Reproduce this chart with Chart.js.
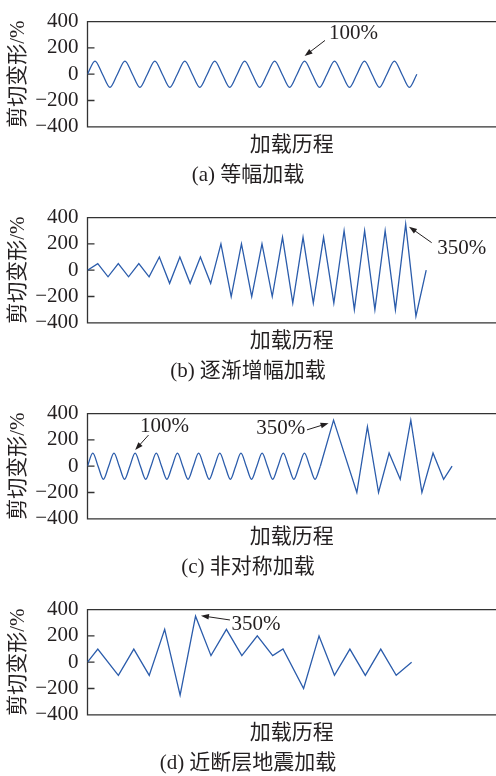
<!DOCTYPE html>
<html>
<head>
<meta charset="utf-8">
<script src="https://cdn.jsdelivr.net/npm/chart.js@4/dist/chart.umd.min.js"></script>
<style>
  html, body { margin: 0; padding: 0; background: #fff; overflow: hidden; }
  .panel { position: absolute; left: 0; width: 496px; height: 196px; }
</style>
</head>
<body>
<div class="panel" style="top:0px"><canvas id="chartA" width="496" height="196"></canvas></div>
<div class="panel" style="top:196px"><canvas id="chartB" width="496" height="196"></canvas></div>
<div class="panel" style="top:392px"><canvas id="chartC" width="496" height="196"></canvas></div>
<div class="panel" style="top:588px"><canvas id="chartD" width="496" height="196"></canvas></div>
<script>
// shear strain (%) at zero crossings and peaks, quarter-cycle steps
const shearA = [
    0, 100, 0, -100,  0, 100, 0, -100,  0, 100, 0, -100,  0, 100, 0, -100,
    0, 100, 0, -100,  0, 100, 0, -100,  0, 100, 0, -100,  0, 100, 0, -100,
    0, 100, 0, -100,  0, 100, 0, -100,  0, 100, 0, -100,
    0
];

// stepwise increasing amplitude, one vertex per step
const shearB = [
    0, 50, -50, 50, -50, 50, -50,
    100, -100, 100, -100, 100, -100,
    200, -200, 200, -200, 200, -200,
    250, -250, 250, -250, 250, -250,
    300, -300, 300, -300, 300, -300,
    350, -350, 0
];

// asymmetric: 100% cycles first, then large peaks
const shearCCycles = [
    0, 100, 0, -100,  0, 100, 0, -100,  0, 100, 0, -100,  0, 100, 0, -100,
    0, 100, 0, -100,  0, 100, 0, -100,  0, 100, 0, -100,  0, 100, 0, -100,
    0, 100, 0, -100,  0, 100, 0, -100,  0, 100, 0, -100,
    0
];
const stepCPeaks = [44, 46.5, 50.9, 52.9, 55, 57, 59.1, 61.1, 63.2, 65.3, 67.3, 68.9];
const shearCPeaks = [0, 350, -200, 300, -200, 100, -100, 350, -200, 100, -100, 0];

// near-fault earthquake record
const stepD = [0, 2, 6, 9, 12, 15, 18, 21, 24, 27, 30, 33, 36, 38, 42, 45, 48, 51, 54, 57, 60, 63];
const shearD = [0, 100, -100, 100, -100, 250, -250, 350, 50, 250, 50, 200, 50, 100, -200, 200, -100, 100, -100, 100, -100, 0];

const captions = ['(a) 等幅加载', '(b) 逐渐增幅加载', '(c) 非对称加载', '(d) 近断层地震加载'];

const ink = '#231f20';
const blue = '#2b5cab';
const serif = '"Liberation Serif", "Noto Sans CJK SC", serif';
const labelFont = { family: serif, size: 21 };

const toPoints = (xs, ys) => ys.map((y, i) => ({ x: xs[i], y }));
const byIndex = ys => ys.map((y, i) => ({ x: i, y }));

// left / top / bottom frame with inward ticks
const framePlugin = {
    id: 'frame',
    beforeDatasetsDraw(chart) {
        const { ctx, chartArea: { left, top, bottom }, width } = chart;
        const y = chart.scales.y;
        ctx.save();
        ctx.strokeStyle = '#333';
        ctx.lineWidth = 1.3;
        ctx.beginPath();
        ctx.moveTo(width, top);
        ctx.lineTo(left, top);
        ctx.lineTo(left, bottom);
        ctx.lineTo(width, bottom);
        y.ticks.forEach(t => {
            const py = y.getPixelForValue(t.value);
            ctx.moveTo(left, py);
            ctx.lineTo(left + 7, py);
        });
        ctx.stroke();
        ctx.restore();
    }
};

// arrow pointing at a peak, labelled with its value
const notePlugin = {
    id: 'arrowNotes',
    afterDatasetsDraw(chart, args, opts) {
        const ctx = chart.ctx;
        (opts.notes || []).forEach(n => {
            const pt = chart.data.datasets[n.dataset].data[n.index];
            const px = chart.scales.x.getPixelForValue(pt.x);
            const py = chart.scales.y.getPixelForValue(pt.y);
            const tx = px + n.tip[0], ty = py + n.tip[1];
            const sx = px + n.tail[0], sy = py + n.tail[1];
            const ang = Math.atan2(ty - sy, tx - sx);
            const len = 8, half = 2.8;
            ctx.save();
            ctx.strokeStyle = ink;
            ctx.fillStyle = ink;
            ctx.lineWidth = 1;
            ctx.beginPath();
            ctx.moveTo(sx, sy);
            ctx.lineTo(tx - Math.cos(ang) * len * 0.8, ty - Math.sin(ang) * len * 0.8);
            ctx.stroke();
            ctx.beginPath();
            ctx.moveTo(tx, ty);
            ctx.lineTo(tx - Math.cos(ang) * len - Math.sin(ang) * half, ty - Math.sin(ang) * len + Math.cos(ang) * half);
            ctx.lineTo(tx - Math.cos(ang) * len + Math.sin(ang) * half, ty - Math.sin(ang) * len - Math.cos(ang) * half);
            ctx.closePath();
            ctx.fill();
            ctx.font = '21px ' + serif;
            ctx.textAlign = n.align || 'left';
            ctx.textBaseline = 'alphabetic';
            ctx.fillText(pt.y + '%', px + n.text[0], py + n.text[1]);
            ctx.restore();
        });
    }
};

function lineSet(points, smooth) {
    return {
        data: points,
        borderColor: blue,
        borderWidth: 1.3,
        pointRadius: 0,
        fill: false,
        cubicInterpolationMode: smooth ? 'monotone' : 'default',
        tension: 0
    };
}

function makeChart(id, datasets, xMax, caption, notes) {
    return new Chart(document.getElementById(id), {
        type: 'line',
        data: { datasets },
        options: {
            responsive: false,
            animation: false,
            layout: { padding: { top: 10.5, left: 0, right: 0, bottom: 0 } },
            scales: {
                x: {
                    type: 'linear',
                    min: 0,
                    max: xMax,
                    ticks: { display: false },
                    grid: { display: false, drawTicks: false },
                    border: { display: false },
                    title: { display: true, text: '加载历程', font: labelFont, color: ink, padding: { top: 6.3, bottom: 2 } },
                    afterFit: s => { s.height = 33.5; }
                },
                y: {
                    min: -400,
                    max: 400,
                    ticks: {
                        stepSize: 200,
                        autoSkip: false,
                        padding: 9,
                        color: ink,
                        font: labelFont,
                        callback: v => v < 0 ? '\u2212' + (-v) : String(v)
                    },
                    grid: { display: false, drawTicks: false },
                    border: { display: false },
                    title: { display: true, text: '剪切变形/%', font: labelFont, color: ink, padding: { top: 5.4, bottom: 0 } },
                    afterFit: s => { s.width = 87.5; }
                }
            },
            plugins: {
                legend: { display: false },
                tooltip: { enabled: false },
                title: {
                    display: true,
                    position: 'bottom',
                    text: caption,
                    font: { family: serif, size: 21, weight: 'normal' },
                    color: ink,
                    padding: { top: 2.1, bottom: 8.4 }
                },
                arrowNotes: { notes }
            }
        },
        plugins: [framePlugin, notePlugin]
    });
}

makeChart('chartA', [lineSet(byIndex(shearA), true)], 54.57, captions[0], [
    { dataset: 0, index: 29, tip: [0, -5], tail: [20.4, -20.6], text: [24.4, -22.2] }
]);

makeChart('chartB', [lineSet(byIndex(shearB), false)], 39.8, captions[1], [
    { dataset: 0, index: 31, tip: [3.3, 2.5], tail: [26, 18.5], text: [31.6, 29.5] }
]);

makeChart('chartC', [
    lineSet(byIndex(shearCCycles), true),
    lineSet(toPoints(stepCPeaks, shearCPeaks), false)
], 77.2, captions[2], [
    { dataset: 0, index: 9, tip: [0, -3], tail: [13.4, -18], text: [5, -21.4] },
    { dataset: 1, index: 1, tip: [-5, 3], tail: [-26.6, 9.7], text: [-28.3, 13.7], align: 'right' }
]);

makeChart('chartD', [lineSet(toPoints(stepD, shearD), false)], 79.4, captions[3], [
    { dataset: 0, index: 7, tip: [5.4, -0.5], tail: [34.4, 3.8], text: [36, 13.8] }
]);
</script>
</body>
</html>
